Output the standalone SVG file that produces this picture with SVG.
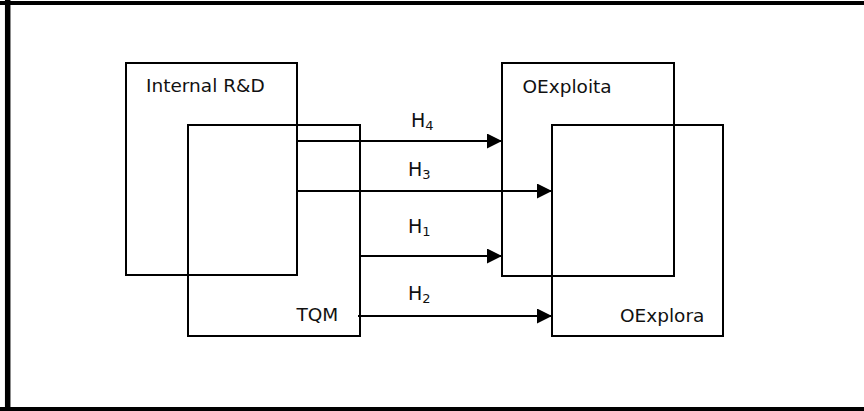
<svg xmlns="http://www.w3.org/2000/svg" width="864" height="411" viewBox="0 0 864 411">
<defs>
<style>
.box{fill:none;stroke:#000;stroke-width:2}
.lbl{font-family:"DejaVu Sans",Verdana,sans-serif;font-size:18.5px;fill:#111}
.h{font-size:19px}
.sub{font-size:13px}
.conn{stroke:#000;stroke-width:2;fill:none}
.frame{stroke:#000;fill:none}
</style>
<marker id="ah" markerWidth="15" markerHeight="15" viewBox="0 0 15 15" refX="15" refY="7.5" orient="auto" markerUnits="userSpaceOnUse">
<path d="M0,0 L15,7.5 L0,15 Z" fill="#000"/>
</marker>
</defs>
<rect width="864" height="411" fill="#fff"/>
<g id="frame">
<line class="frame" x1="7.7" y1="0" x2="7.7" y2="411" stroke-width="5.5"/>
<line class="frame" x1="0" y1="3" x2="864" y2="3" stroke-width="4"/>
<line class="frame" x1="0" y1="409" x2="864" y2="409" stroke-width="4"/>
</g>
<g id="internal-rd">
<rect class="box" x="126" y="63" width="171" height="212"/>
<text class="lbl" x="146" y="92">Internal R&amp;D</text>
</g>
<g id="tqm">
<rect class="box" x="188" y="125" width="172" height="211"/>
<text class="lbl" x="296.5" y="321">TQM</text>
</g>
<g id="oexploita">
<rect class="box" x="502" y="63" width="172" height="213"/>
<text class="lbl" x="522.5" y="92.5">OExploita</text>
</g>
<g id="oexplora">
<rect class="box" x="552" y="125" width="171" height="211"/>
<text class="lbl" x="620" y="321.5">OExplora</text>
</g>
<g id="connectors">
<line class="conn" x1="297" y1="141" x2="502" y2="141" marker-end="url(#ah)"/>
<line class="conn" x1="297" y1="191" x2="552" y2="191" marker-end="url(#ah)"/>
<line class="conn" x1="360" y1="256" x2="502" y2="256" marker-end="url(#ah)"/>
<line class="conn" x1="358" y1="316" x2="552" y2="316" marker-end="url(#ah)"/>
<text class="lbl h" x="411" y="126.5">H<tspan class="sub" dy="3">4</tspan></text>
<text class="lbl h" x="408" y="176">H<tspan class="sub" dy="3">3</tspan></text>
<text class="lbl h" x="408" y="233">H<tspan class="sub" dy="3">1</tspan></text>
<text class="lbl h" x="408" y="300">H<tspan class="sub" dy="3">2</tspan></text>
</g>
</svg>
